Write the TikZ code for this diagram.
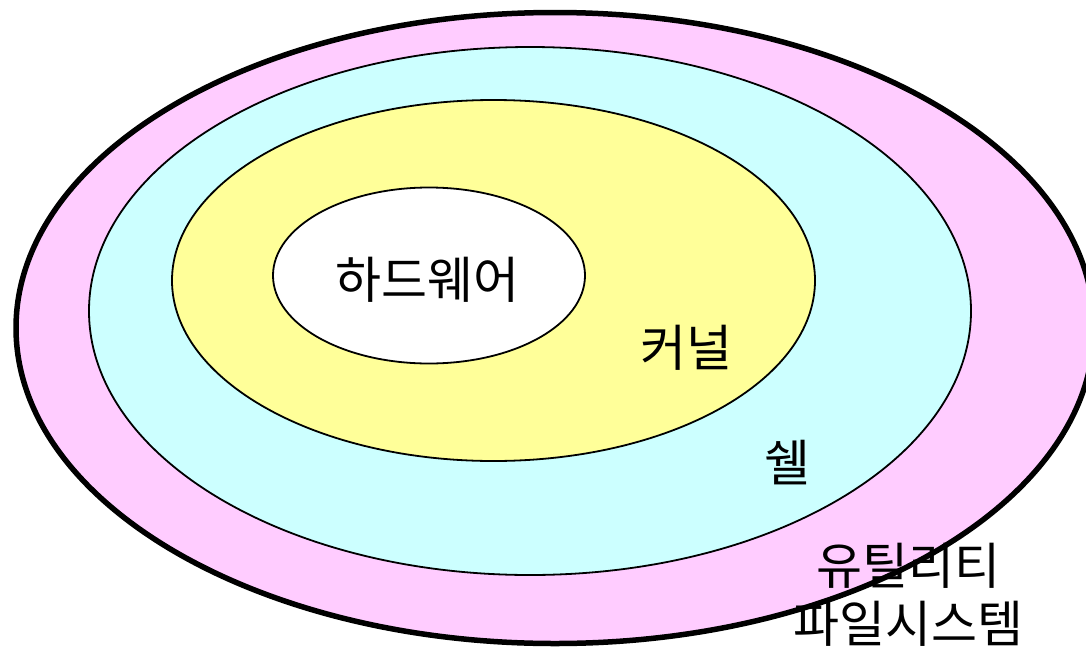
\documentclass[tikz,border=0pt]{standalone}
\usepackage{fontspec}
\newfontfamily\krfont{Noto Sans CJK KR}
\definecolor{utilpink}{HTML}{FFCCFF}
\definecolor{shellcyan}{HTML}{CCFFFF}
\definecolor{kernelyellow}{HTML}{FFFF99}
\begin{document}
\begin{tikzpicture}[x=1pt, y=-1pt,
		layer/.style={draw=black, line width=1.8pt},
		label/.style={font=\krfont\fontsize{50}{58}\selectfont, inner sep=0pt, align=center}]
			%%%%% START %%%%%
			
			\useasboundingbox (0, 0) rectangle (1086, 648);
			\clip (0, 0) rectangle (1086, 648);
			
			\draw[layer, line width=5.5pt, fill=utilpink] (555, 328) ellipse (539 and 315.5);
			\draw[layer, fill=shellcyan] (530, 311) ellipse (441 and 264);
			\draw[layer, fill=kernelyellow] (493.5, 280.5) ellipse (321.5 and 180.5);
			\draw[layer, fill=white] (429, 275.5) ellipse (156 and 88);
			
			\node[label] (hw) at (427, 280) {하드웨어};
			\node[label] (kernel) at (686.5, 347.5) {커널};
			\node[label] (shell) at (787, 463) {쉘};
			\node[label] (util) at (908, 566) {유틸리티};
			\node[label] (fs) at (908, 624) {파일시스템};
			
			%%%%% END %%%%%
		\end{tikzpicture}
\end{document}
